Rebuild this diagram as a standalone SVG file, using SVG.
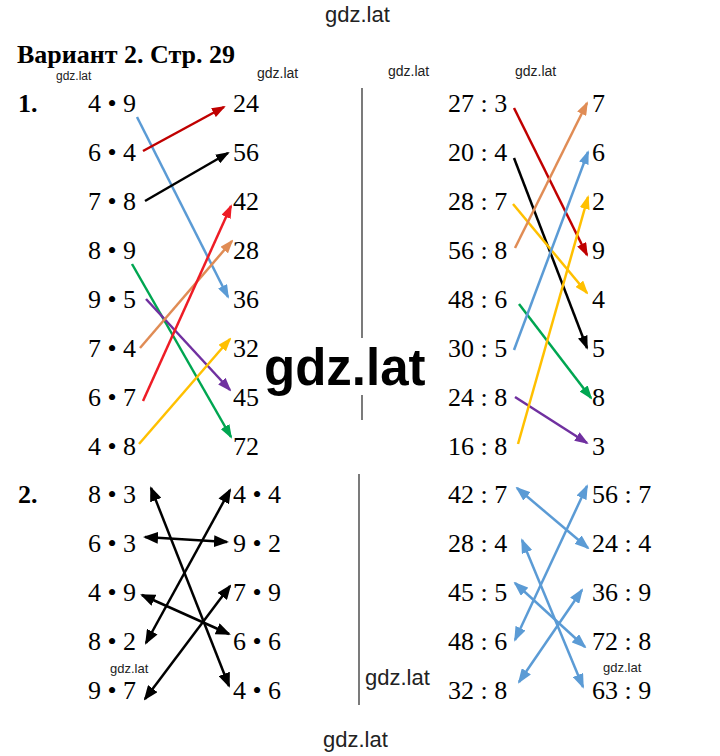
<svg xmlns="http://www.w3.org/2000/svg" width="720" height="756" viewBox="0 0 720 756">
<style>
.e{font-family:"Liberation Serif","Times New Roman",serif;font-size:26px;fill:#000}
.h{font-family:"Liberation Serif","Times New Roman",serif;font-size:26px;font-weight:bold;fill:#000}
.w{font-family:"Liberation Sans",Arial,sans-serif;fill:#222}
.a{fill:none;stroke-width:2.5}
.div{stroke:#333;stroke-width:1.3}
</style>
<defs>
<marker id="mBlue" viewBox="0 0 14 10" markerWidth="14" markerHeight="10" refX="12" refY="5" orient="auto-start-reverse" markerUnits="userSpaceOnUse"><path d="M0,0 L14,5 L0,10 z" fill="#5b9bd5"/></marker>
<marker id="mDred" viewBox="0 0 14 10" markerWidth="14" markerHeight="10" refX="12" refY="5" orient="auto" markerUnits="userSpaceOnUse"><path d="M0,0 L14,5 L0,10 z" fill="#c00000"/></marker>
<marker id="mBlack" viewBox="0 0 14 10" markerWidth="14" markerHeight="10" refX="12" refY="5" orient="auto-start-reverse" markerUnits="userSpaceOnUse"><path d="M0,0 L14,5 L0,10 z" fill="#000"/></marker>
<marker id="mGreen" viewBox="0 0 14 10" markerWidth="14" markerHeight="10" refX="12" refY="5" orient="auto" markerUnits="userSpaceOnUse"><path d="M0,0 L14,5 L0,10 z" fill="#00a651"/></marker>
<marker id="mPurple" viewBox="0 0 14 10" markerWidth="14" markerHeight="10" refX="12" refY="5" orient="auto" markerUnits="userSpaceOnUse"><path d="M0,0 L14,5 L0,10 z" fill="#7030a0"/></marker>
<marker id="mOrange" viewBox="0 0 14 10" markerWidth="14" markerHeight="10" refX="12" refY="5" orient="auto" markerUnits="userSpaceOnUse"><path d="M0,0 L14,5 L0,10 z" fill="#e08c55"/></marker>
<marker id="mRed" viewBox="0 0 14 10" markerWidth="14" markerHeight="10" refX="12" refY="5" orient="auto" markerUnits="userSpaceOnUse"><path d="M0,0 L14,5 L0,10 z" fill="#ee1c25"/></marker>
<marker id="mYellow" viewBox="0 0 14 10" markerWidth="14" markerHeight="10" refX="12" refY="5" orient="auto" markerUnits="userSpaceOnUse"><path d="M0,0 L14,5 L0,10 z" fill="#ffc000"/></marker>
<marker id="mBlack2" viewBox="0 0 15 12" markerWidth="15" markerHeight="12" refX="13" refY="6" orient="auto-start-reverse" markerUnits="userSpaceOnUse"><path d="M0,0 L15,6 L0,12 z" fill="#000"/></marker>
<marker id="mBlue2" viewBox="0 0 15 11" markerWidth="15" markerHeight="11" refX="13" refY="5.5" orient="auto-start-reverse" markerUnits="userSpaceOnUse"><path d="M0,0 L15,5.5 L0,11 z" fill="#5b9bd5"/></marker>
</defs>
<rect width="720" height="756" fill="#fff"/>

<g id="header">
<text class="h" x="17" y="63">Вариант 2. Стр. 29</text>
<text class="e" x="18" y="112" font-weight="bold">1.</text>
<text class="e" x="18" y="503" font-weight="bold">2.</text>
</g>

<g id="dividers">
<line class="div" x1="362" y1="88" x2="362" y2="338"/>
<line class="div" x1="362" y1="395" x2="362" y2="420"/>
<line class="div" x1="359" y1="474" x2="359" y2="705"/>
</g>

<g id="task1-left">
<text class="e" x="88" y="112">4 • 9</text>
<text class="e" x="88" y="161">6 • 4</text>
<text class="e" x="88" y="210">7 • 8</text>
<text class="e" x="88" y="259">8 • 9</text>
<text class="e" x="88" y="308">9 • 5</text>
<text class="e" x="88" y="357">7 • 4</text>
<text class="e" x="88" y="406">6 • 7</text>
<text class="e" x="88" y="455">4 • 8</text>
<text class="e" x="233" y="112">24</text>
<text class="e" x="233" y="161">56</text>
<text class="e" x="233" y="210">42</text>
<text class="e" x="233" y="259">28</text>
<text class="e" x="233" y="308">36</text>
<text class="e" x="233" y="357">32</text>
<text class="e" x="233" y="406">45</text>
<text class="e" x="233" y="455">72</text>
</g>

<g id="task1-right">
<text class="e" x="448" y="112">27 : 3</text>
<text class="e" x="448" y="161">20 : 4</text>
<text class="e" x="448" y="210">28 : 7</text>
<text class="e" x="448" y="259">56 : 8</text>
<text class="e" x="448" y="308">48 : 6</text>
<text class="e" x="448" y="357">30 : 5</text>
<text class="e" x="448" y="406">24 : 8</text>
<text class="e" x="448" y="455">16 : 8</text>
<text class="e" x="592" y="112">7</text>
<text class="e" x="592" y="161">6</text>
<text class="e" x="592" y="210">2</text>
<text class="e" x="592" y="259">9</text>
<text class="e" x="592" y="308">4</text>
<text class="e" x="592" y="357">5</text>
<text class="e" x="592" y="406">8</text>
<text class="e" x="592" y="455">3</text>
</g>

<g id="task2-left">
<text class="e" x="88" y="503">8 • 3</text>
<text class="e" x="88" y="552">6 • 3</text>
<text class="e" x="88" y="601">4 • 9</text>
<text class="e" x="88" y="650">8 • 2</text>
<text class="e" x="88" y="699">9 • 7</text>
<text class="e" x="233" y="503">4 • 4</text>
<text class="e" x="233" y="552">9 • 2</text>
<text class="e" x="233" y="601">7 • 9</text>
<text class="e" x="233" y="650">6 • 6</text>
<text class="e" x="233" y="699">4 • 6</text>
</g>

<g id="task2-right">
<text class="e" x="448" y="503">42 : 7</text>
<text class="e" x="448" y="552">28 : 4</text>
<text class="e" x="448" y="601">45 : 5</text>
<text class="e" x="448" y="650">48 : 6</text>
<text class="e" x="448" y="699">32 : 8</text>
<text class="e" x="592" y="503">56 : 7</text>
<text class="e" x="592" y="552">24 : 4</text>
<text class="e" x="592" y="601">36 : 9</text>
<text class="e" x="592" y="650">72 : 8</text>
<text class="e" x="592" y="699">63 : 9</text>
</g>

<g id="connectors">
<line class="a" stroke="#5b9bd5" x1="137" y1="117" x2="228" y2="297" marker-end="url(#mBlue)"/>
<line class="a" stroke="#c00000" x1="143" y1="151" x2="224" y2="107" marker-end="url(#mDred)"/>
<line class="a" stroke="#000" x1="145" y1="201" x2="228" y2="153" marker-end="url(#mBlack)"/>
<line class="a" stroke="#00a651" x1="132" y1="264" x2="231" y2="437" marker-end="url(#mGreen)"/>
<line class="a" stroke="#7030a0" x1="146" y1="299" x2="230" y2="390" marker-end="url(#mPurple)"/>
<line class="a" stroke="#e08c55" x1="140" y1="348" x2="232" y2="241" marker-end="url(#mOrange)"/>
<line class="a" stroke="#ee1c25" x1="143" y1="401" x2="231" y2="206" marker-end="url(#mRed)"/>
<line class="a" stroke="#ffc000" x1="139" y1="444" x2="230" y2="339" marker-end="url(#mYellow)"/>

<line class="a" stroke="#c00000" x1="514" y1="108" x2="587" y2="255" marker-end="url(#mDred)"/>
<line class="a" stroke="#000" x1="514" y1="158" x2="587" y2="348" marker-end="url(#mBlack)"/>
<line class="a" stroke="#ffc000" x1="513" y1="204" x2="587" y2="293" marker-end="url(#mYellow)"/>
<line class="a" stroke="#e08c55" x1="515" y1="248" x2="587" y2="103" marker-end="url(#mOrange)"/>
<line class="a" stroke="#00a651" x1="519" y1="304" x2="591" y2="398" marker-end="url(#mGreen)"/>
<line class="a" stroke="#5b9bd5" x1="514" y1="350" x2="588" y2="152" marker-end="url(#mBlue)"/>
<line class="a" stroke="#7030a0" x1="515" y1="397" x2="587" y2="443" marker-end="url(#mPurple)"/>
<line class="a" stroke="#ffc000" x1="518" y1="444" x2="588" y2="197" marker-end="url(#mYellow)"/>

<line class="a" stroke="#000" x1="151" y1="488" x2="229" y2="686" marker-start="url(#mBlack2)" marker-end="url(#mBlack2)"/>
<line class="a" stroke="#000" x1="230" y1="490" x2="146" y2="643" marker-start="url(#mBlack2)" marker-end="url(#mBlack2)"/>
<line class="a" stroke="#000" x1="145" y1="537" x2="227" y2="542" marker-start="url(#mBlack2)" marker-end="url(#mBlack2)"/>
<line class="a" stroke="#000" x1="230" y1="586" x2="145" y2="699" marker-start="url(#mBlack2)" marker-end="url(#mBlack2)"/>
<line class="a" stroke="#000" x1="142" y1="595" x2="229" y2="634" marker-start="url(#mBlack2)" marker-end="url(#mBlack2)"/>

<line class="a" stroke="#5b9bd5" x1="517" y1="488" x2="588" y2="548" marker-start="url(#mBlue2)" marker-end="url(#mBlue2)"/>
<line class="a" stroke="#5b9bd5" x1="587" y1="486" x2="515" y2="640" marker-start="url(#mBlue2)" marker-end="url(#mBlue2)"/>
<line class="a" stroke="#5b9bd5" x1="522" y1="540" x2="583" y2="687" marker-start="url(#mBlue2)" marker-end="url(#mBlue2)"/>
<line class="a" stroke="#5b9bd5" x1="515" y1="583" x2="585" y2="647" marker-start="url(#mBlue2)" marker-end="url(#mBlue2)"/>
<line class="a" stroke="#5b9bd5" x1="582" y1="590" x2="519" y2="682" marker-start="url(#mBlue2)" marker-end="url(#mBlue2)"/>
</g>

<g id="watermarks">
<text class="w" x="325" y="22" font-size="22">gdz.lat</text>
<text class="w" x="56" y="80" font-size="12">gdz.lat</text>
<text class="w" x="257" y="78" font-size="14">gdz.lat</text>
<text class="w" x="388" y="76" font-size="14">gdz.lat</text>
<text class="w" x="515" y="76" font-size="14">gdz.lat</text>
<text x="264" y="385" font-family="Liberation Sans, Arial, sans-serif" font-size="51" font-weight="bold" fill="#000">gdz.lat</text>
<text class="w" x="110" y="673" font-size="13">gdz.lat</text>
<text class="w" x="603" y="672" font-size="13">gdz.lat</text>
<text class="w" x="365" y="685" font-size="22">gdz.lat</text>
<text class="w" x="323" y="747" font-size="22">gdz.lat</text>
</g>
</svg>
